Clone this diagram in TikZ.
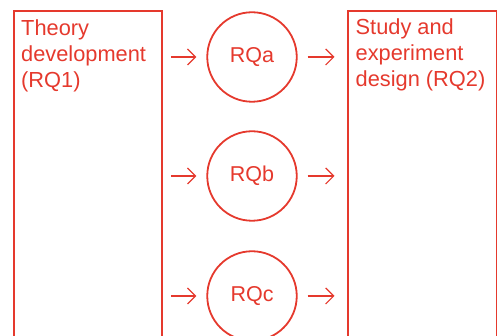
\documentclass[tikz,border=0pt]{standalone}
\usepackage{fontspec}
\setmainfont{Liberation Sans}
\usetikzlibrary{arrows.meta}
\definecolor{rqred}{RGB}{229,57,45}
\begin{document}
\begin{tikzpicture}[x=1pt,y=1pt,
  box/.style={draw=rqred, line width=1.9pt, rectangle, inner sep=0pt, anchor=north west},
  boxtext/.style={text=rqred, inner sep=0pt, anchor=north west, align=left,
    font=\fontsize{21.8}{26}\selectfont},
  rq/.style={draw=rqred, line width=1.8pt, circle, inner sep=0pt, minimum size=89.5pt,
    text=rqred, font=\fontsize{21.5}{26}\selectfont},
  arr/.style={draw=rqred, line width=1.2pt, -{Straight Barb[length=8pt,width=16pt]}}]
\useasboundingbox (0,0) rectangle (498,336);
\clip (0,0) rectangle (498,336);
% boxes
\node[box, minimum width=148pt, minimum height=360pt] (left) at (13,326) {};
\node[box, minimum width=148.5pt, minimum height=360pt] (right) at (347,326) {};
\node[boxtext] (lefttext) at (21,316.5) {Theory\\development\\(RQ1)};
\node[boxtext] (righttext) at (355.5,317) {Study and\\experiment\\design (RQ2)};
% circles
\node[rq] (a) at (252,279) {RQa};
\node[rq] (b) at (252,160) {RQb};
\node[rq] (c) at (252,40) {RQc};
% arrows
\foreach \n in {a,b,c}{
  \draw[arr, shorten <=8pt, shorten >=10pt] (left.east |- \n.center) -- (\n.west);
  \draw[arr, shorten <=10pt, shorten >=12.5pt] (\n.east) -- (\n.center -| right.west);
}
\end{tikzpicture}
\end{document}
